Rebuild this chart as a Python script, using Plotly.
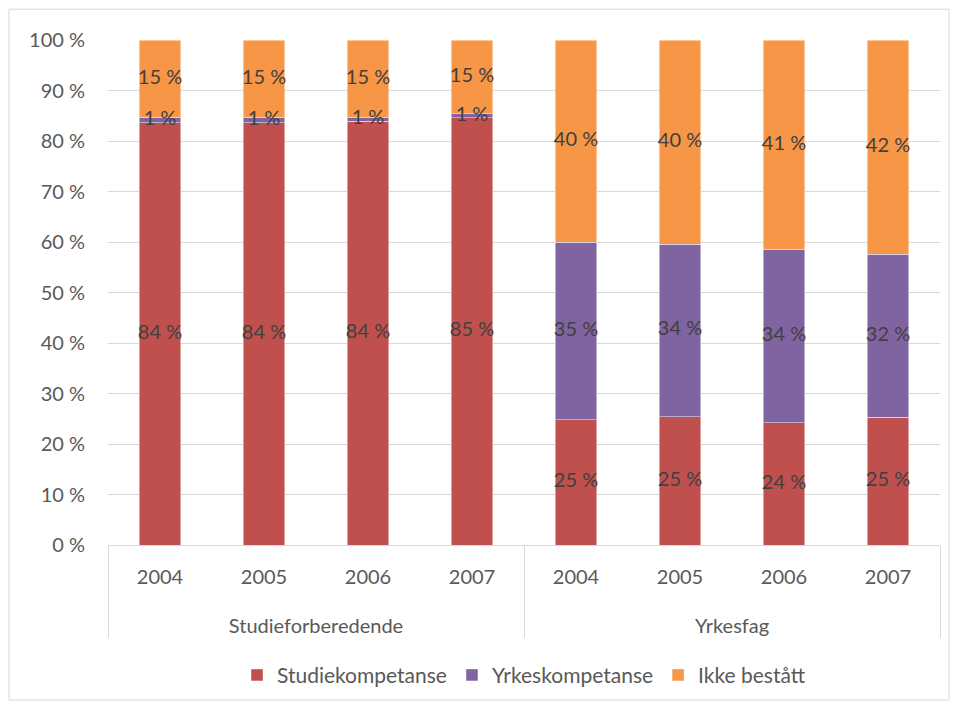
import plotly.graph_objects as go

# Data: share of pupils by outcome, per programme area and year (percent)
groups = ["Studieforberedende"] * 4 + ["Yrkesfag"] * 4
years = ["2004", "2005", "2006", "2007"] * 2

studiekompetanse = [83.6, 83.6, 83.9, 84.6, 24.8, 25.4, 24.2, 25.3]
yrkeskompetanse = [1.1, 1.1, 0.8, 0.8, 35.2, 34.2, 34.4, 32.3]
ikke_bestatt = [15.3, 15.3, 15.3, 14.6, 40.0, 40.4, 41.4, 42.4]

y_tickvals = [0, 10, 20, 30, 40, 50, 60, 70, 80, 90, 100]
y_ticktext = [f"{v} %" for v in y_tickvals]

series = [
    ("Studiekompetanse", studiekompetanse, "#C0504D"),
    ("Yrkeskompetanse", yrkeskompetanse, "#8064A2"),
    ("Ikke bestått", ikke_bestatt, "#F79646"),
]

FONT = "Lato, Carlito, Calibri, sans-serif"

# year labels get an empty second line, so the group labels sit lower (as in Excel);
# the axis font is a bit bigger to widen that line, the text itself is set to 20px
span = "<span style='font-size:20px'>{}</span>"
year_labels = [span.format(y) + "<br> " for y in years]
group_labels = [span.format(g) for g in groups]
xcat = [group_labels, year_labels]

fig = go.Figure()
for name, vals, color in series:
    fig.add_trace(go.Bar(
        x=xcat,
        y=vals,
        name=name,
        marker=dict(color=color, line=dict(color="rgba(255,255,255,0.6)", width=0.75)),
        width=0.4,
        hovertemplate="%{y:.1f} %<extra>" + name + "</extra>",
    ))

# data labels on top of all bars, centred in each segment
base = [0.0] * len(years)
for name, vals, color in series:
    mids = [b + v / 2 for b, v in zip(base, vals)]
    fig.add_trace(go.Scatter(
        x=xcat,
        y=mids,
        mode="text",
        text=[f"{round(v)} %" for v in vals],
        textposition="middle center",
        textfont=dict(color="#404040", size=20, family=FONT),
        showlegend=False,
        hoverinfo="skip",
    ))
    base = [b + v for b, v in zip(base, vals)]

# the page body adds 8px, so margins are 8px smaller than the target positions
fig.update_layout(
    barmode="stack",
    width=959,
    height=706,
    margin=dict(l=100, r=27, t=32, b=169),
    paper_bgcolor="white",
    plot_bgcolor="white",
    font=dict(family=FONT, size=20, color="#595959"),
    legend=dict(
        orientation="h",
        x=0.5, xanchor="center",
        y=-0.258, yanchor="middle",
        font=dict(size=21, color="#595959"),
        itemwidth=30,
        traceorder="normal",
    ),
    showlegend=True,
)

fig.update_yaxes(
    range=[0, 100],
    tickvals=y_tickvals,
    ticktext=y_ticktext,
    showgrid=True,
    gridcolor="#D9D9D9",
    gridwidth=1,
    zeroline=False,
    showline=False,
    ticks="",
    ticklabelstandoff=22,
)

fig.update_xaxes(
    showline=True,
    linecolor="#D9D9D9",
    linewidth=1,
    showdividers=True,
    dividercolor="#D9D9D9",
    dividerwidth=1,
    ticks="",
    ticklabelstandoff=9,
    tickfont=dict(size=24, color="#595959"),
)

# light frame around the whole chart, as in the original
fig.add_shape(
    type="rect", xref="paper", yref="paper",
    x0=-0.119, x1=1.011, y0=-0.307, y1=1.061,
    line=dict(color="#D9D9D9", width=1),
    fillcolor="rgba(0,0,0,0)", layer="below",
)

fig.write_html("out.html")
